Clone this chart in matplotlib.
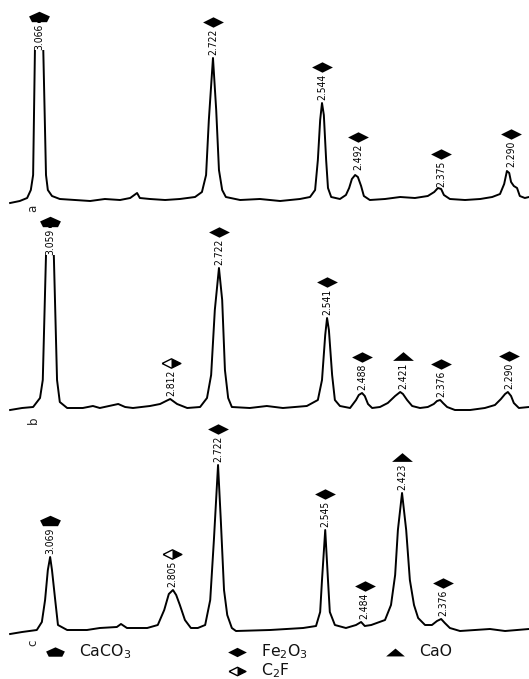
import matplotlib
matplotlib.use("Agg")
import matplotlib.pyplot as plt
from matplotlib.path import Path

# XRD traces: 2-theta (deg) and intensity (a.u., baseline = 0)
a_tth = [28.42, 28.63, 28.79, 28.87, 28.92, 28.96, 29.05, 29.14, 29.20, 29.24, 29.33, 29.50,
         29.83, 30.16, 30.48, 30.81, 31.03, 31.18, 31.24, 31.46, 31.79, 32.11, 32.44, 32.59,
         32.68, 32.74, 32.83, 32.90, 32.96, 33.03, 33.11, 33.42, 33.85, 34.29, 34.72, 34.94,
         35.05, 35.11, 35.16, 35.20, 35.24, 35.29, 35.33, 35.40, 35.59, 35.72, 35.79, 35.85,
         35.92, 35.98, 36.05, 36.11, 36.24, 36.57, 36.90, 37.22, 37.50, 37.64, 37.72, 37.79,
         37.85, 37.98, 38.31, 38.64, 38.90, 39.07, 39.16, 39.22, 39.27, 39.31, 39.37, 39.44,
         39.50, 39.61, 39.70]
a_int = [-5, -3, 0, 8, 23, 150, 180, 150, 23, 8, 2, -1,
         -2, -3, -1, -2, 0, 5, 0, -1, -2, -1, 1, 6,
         23, 78, 140, 88, 28, 8, 1, -2, -1, -3, -1, 1,
         8, 38, 78, 95, 83, 38, 10, 1, -1, 3, 10, 19,
         23, 21, 12, 2, -2, -1, 1, 0, 2, 6, 10, 9,
         3, -1, -2, -1, 1, 4, 14, 27, 25, 16, 12, 10,
         2, 0, 1]

b_tth = [28.42, 28.68, 28.92, 29.07, 29.13, 29.20, 29.29, 29.37, 29.44, 29.50, 29.66, 30.00,
         30.22, 30.37, 30.77, 30.92, 31.09, 31.46, 31.68, 31.81, 31.90, 31.96, 32.05, 32.27,
         32.55, 32.70, 32.79, 32.87, 32.96, 33.03, 33.09, 33.16, 33.24, 33.63, 34.00, 34.35,
         34.87, 35.11, 35.20, 35.27, 35.31, 35.35, 35.42, 35.48, 35.59, 35.81, 35.94, 36.00,
         36.07, 36.13, 36.20, 36.29, 36.46, 36.63, 36.79, 36.90, 36.96, 37.05, 37.16, 37.33,
         37.50, 37.63, 37.70, 37.77, 37.83, 37.92, 38.09, 38.42, 38.74, 38.96, 39.09, 39.18,
         39.24, 39.31, 39.37, 39.48, 39.70]
b_int = [-2, 0, 1, 10, 28, 153, 186, 153, 28, 6, 0, 0,
         2, 0, 4, 1, 0, 2, 4, 7, 9, 7, 4, 0,
         1, 10, 33, 98, 140, 108, 38, 10, 1, 0, 2, 0,
         2, 8, 28, 73, 90, 78, 33, 8, 2, 0, 8, 13,
         15, 12, 4, 0, 1, 5, 12, 16, 14, 8, 2, 0,
         1, 4, 7, 8, 5, 1, -2, -2, 0, 3, 9, 14,
         16, 12, 5, 0, 1]

c_tth = [28.42, 28.68, 29.00, 29.11, 29.18, 29.24, 29.29, 29.33, 29.40, 29.46, 29.66, 30.09,
         30.37, 30.74, 30.83, 30.96, 31.40, 31.63, 31.77, 31.87, 31.96, 32.03, 32.11, 32.22,
         32.35, 32.50, 32.66, 32.77, 32.85, 32.94, 33.00, 33.07, 33.14, 33.24, 33.33, 34.07,
         34.79, 35.07, 35.16, 35.20, 35.27, 35.33, 35.37, 35.48, 35.72, 35.94, 36.05, 36.13,
         36.27, 36.57, 36.70, 36.79, 36.85, 36.94, 37.03, 37.11, 37.20, 37.29, 37.44, 37.59,
         37.70, 37.79, 37.87, 37.98, 38.20, 38.85, 39.18, 39.70]
c_int = [-2, 0, 2, 10, 32, 62, 75, 62, 32, 7, 2, 2,
         4, 5, 8, 4, 4, 7, 22, 38, 42, 37, 27, 12,
         4, 4, 7, 32, 92, 167, 112, 42, 17, 4, 1, 2,
         4, 6, 20, 52, 102, 52, 20, 7, 4, 7, 10, 6,
         7, 12, 27, 57, 102, 139, 102, 52, 27, 14, 7, 7,
         11, 13, 9, 4, 1, 3, 1, 3]

# peak labels: d-spacing text, 2-theta, peak top, phase
a_d = ["3.066", "2.722", "2.544", "2.492", "2.375", "2.290"]
a_pos = [29.05, 32.83, 35.20, 35.98, 37.79, 39.31]
a_top = [145, 140, 95, 25, 8, 28]
a_phase = ["CaCO3", "Fe2O3", "Fe2O3", "Fe2O3", "Fe2O3", "Fe2O3"]

b_d = ["3.059", "2.812", "2.722", "2.541", "2.488", "2.421", "2.376", "2.290"]
b_pos = [29.29, 31.92, 32.96, 35.31, 36.07, 36.96, 37.79, 39.27]
b_top = [150, 9, 140, 90, 15, 16, 8, 16]
b_phase = ["CaCO3", "C2F", "Fe2O3", "Fe2O3", "Fe2O3", "CaO", "Fe2O3", "Fe2O3"]

c_d = ["3.069", "2.805", "2.722", "2.545", "2.484", "2.423", "2.376"]
c_pos = [29.29, 31.94, 32.94, 35.27, 36.13, 36.94, 37.83]
c_top = [75, 42, 167, 102, 10, 139, 13]
c_phase = ["CaCO3", "C2F", "Fe2O3", "Fe2O3", "Fe2O3", "CaO", "Fe2O3"]

phases = ["CaCO3", "Fe2O3", "CaO", "C2F"]
phase_names = ["CaCO$_3$", "Fe$_2$O$_3$", "CaO", "C$_2$F"]

# marker shapes
PENT = Path([(0, 0.55), (1, 0.1), (0.72, -0.45), (-0.72, -0.45), (-1, 0.1), (0, 0.55)])
DIAM = Path([(-1, 0), (0, 0.5), (1, 0), (0, -0.5), (-1, 0)])
TRI = Path([(-1, -0.42), (1, -0.42), (0, 0.42), (-1, -0.42)])
HALF = Path([(0, 0.5), (1, 0), (0, -0.5), (0, 0.5)])

GAP = 36   # marker above peak top, a.u. (= px here)


def mark(ax, x, y, phase, ms):
    kw = dict(ls="none", ms=ms, clip_on=False, zorder=5)
    if phase == "CaCO3":
        ax.plot(x, y, marker=PENT, color="black", mew=0, **kw)
    elif phase == "Fe2O3":
        ax.plot(x, y, marker=DIAM, color="black", mew=0, **kw)
    elif phase == "CaO":
        ax.plot(x, y, marker=TRI, color="black", mew=0, **kw)
    else:
        # C2F: half open / half filled diamond
        k2 = dict(kw, ms=ms * 0.9)
        ax.plot(x, y, marker=DIAM, mfc="white", mec="black", mew=1.0, **k2)
        ax.plot(x, y, marker=HALF, color="black", mew=0, **k2)


fig = plt.figure(figsize=(5.29, 6.79), dpi=100)
H = 679
panels = [
    (a_tth, a_int, a_d, a_pos, a_top, a_phase, 0, 205, 7, "a", 208),
    (b_tth, b_int, b_d, b_pos, b_top, b_phase, 210, 415, 7, "b", 420),
    (c_tth, c_int, c_d, c_pos, c_top, c_phase, 420, 640, 8, "c", 643),
]
for tth, inten, dl, pos, top, ph, y0, y1, below, letter, ly in panels:
    ax = fig.add_axes([0, 1 - y1 / H, 1, (y1 - y0) / H])
    ax.plot(tth, inten, color="black", lw=1.4, solid_joinstyle="round", zorder=2)
    ax.set_xlim(28.2, 39.7)
    ax.set_ylim(-below, (y1 - y0) - below)
    ax.axis("off")
    for d, x, t, p in zip(dl, pos, top, ph):
        ax.annotate(d, xy=(x, t), xytext=(0, 3), textcoords="offset pixels",
                    rotation=90, ha="center", va="bottom", fontsize=7.4,
                    family="DejaVu Sans", fontstretch="condensed", zorder=4,
                    bbox=dict(fc="white", ec="none", pad=0.3))
        mark(ax, x, t + GAP, p, 15)
    fig.text(33 / 529, 1 - ly / H, letter, rotation=90, ha="center", va="center",
             fontsize=8.5, color="#222")

# legend
leg_x = [55, 237, 395, 237]
leg_y = [652, 652, 652, 671]
lax = fig.add_axes([0, 0, 1, 1], facecolor="none")
lax.set_xlim(0, 529)
lax.set_ylim(679, 0)
lax.axis("off")
for p, name, lx, lyy in zip(phases, phase_names, leg_x, leg_y):
    mark(lax, lx, lyy, p, 13.5)
    lax.text(lx + 24, lyy, name, ha="left", va="center", fontsize=11.3, color="#111")

fig.savefig("out.png", dpi=100)
